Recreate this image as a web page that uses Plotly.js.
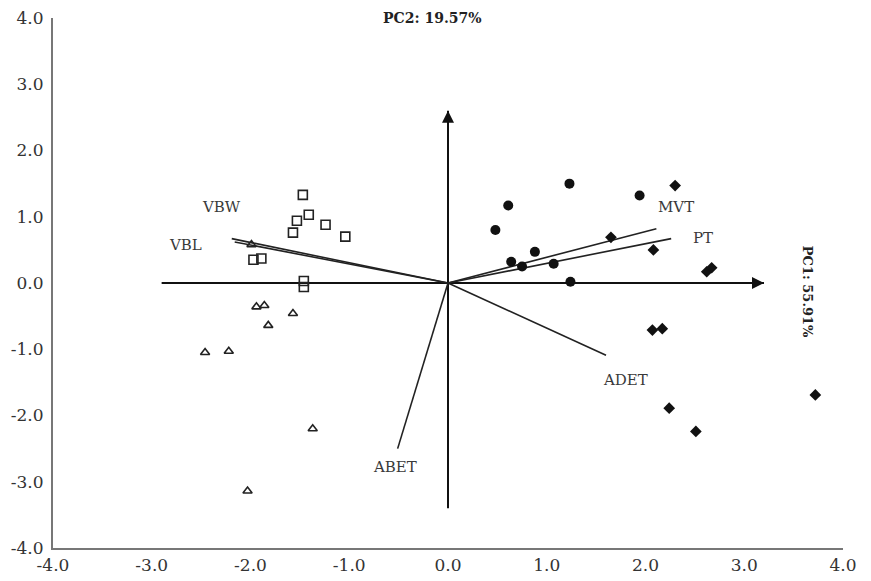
<!DOCTYPE html>
<html>
<head>
<meta charset="utf-8">
<script src="https://cdn.plot.ly/plotly-3.0.1.min.js"></script>
<style>html,body{margin:0;padding:0;background:#fff;}#chart{width:871px;height:581px;}</style>
</head>
<body>
<div id="chart"></div>
<script>
// Group scores (PC1, PC2)
const squareX = [-1.47, -1.41, -1.53, -1.57, -1.24, -1.04, -1.97, -1.89, -1.46, -1.46];
const squareY = [1.33, 1.03, 0.94, 0.76, 0.88, 0.70, 0.35, 0.37, 0.03, -0.06];
const triangleX = [-1.99, -1.94, -1.86, -1.57, -1.82, -2.46, -2.22, -1.37, -2.03];
const triangleY = [0.58, -0.36, -0.34, -0.46, -0.64, -1.05, -1.03, -2.20, -3.14];
const circleX = [1.23, 0.61, 0.48, 1.94, 0.88, 0.64, 0.75, 1.07, 1.24];
const circleY = [1.50, 1.17, 0.80, 1.32, 0.47, 0.32, 0.25, 0.29, 0.02];
const diamondX = [2.30, 1.65, 2.08, 2.62, 2.67, 2.07, 2.17, 2.24, 2.51, 3.72];
const diamondY = [1.47, 0.69, 0.50, 0.17, 0.23, -0.71, -0.69, -1.89, -2.24, -1.69];

// Variable loadings (vector end points) and labels
const loadingNames = ["VBW", "VBL", "MVT", "PT", "ADET", "ABET"];
const loadingX = [-2.19, -2.16, 2.11, 2.26, 1.60, -0.51];
const loadingY = [0.67, 0.62, 0.82, 0.67, -1.09, -2.50];
const labelX = [-2.29, -2.66, 2.31, 2.58, 1.80, -0.54];
const labelY = [1.14, 0.58, 1.15, 0.68, -1.47, -2.77];

// Component axes (extent)
const pc1Extent = [-2.9, 3.2];
const pc2Extent = [-3.4, 2.6];
const pc1Label = "PC1: 55.91%";
const pc2Label = "PC2: 19.57%";
const tickVals = [-4, -3, -2, -1, 0, 1, 2, 3, 4];
const tickText = ["-4.0", "-3.0", "-2.0", "-1.0", "0.0", "1.0", "2.0", "3.0", "4.0"];

const serif = "DejaVu Serif, serif";

const traces = [];
// inner axes
traces.push({x: pc1Extent, y: [0, 0], mode: "lines", line: {color: "#111", width: 2}, hoverinfo: "skip", showlegend: false});
traces.push({x: [0, 0], y: pc2Extent, mode: "lines", line: {color: "#111", width: 2}, hoverinfo: "skip", showlegend: false});
// loading vectors
for (let i = 0; i < loadingNames.length; i++) {
  traces.push({x: [0, loadingX[i]], y: [0, loadingY[i]], mode: "lines",
    line: {color: "#222", width: 1.6}, hoverinfo: "skip", showlegend: false, name: loadingNames[i]});
}
traces.push({x: squareX, y: squareY, mode: "markers", showlegend: false,
  marker: {symbol: "square-open", size: 9, color: "#222", line: {width: 1.6, color: "#222"}}});
traces.push({x: triangleX, y: triangleY, mode: "markers", showlegend: false,
  marker: {symbol: "triangle-up-open", size: 8, color: "#222", line: {width: 1.6, color: "#222"}}});
traces.push({x: circleX, y: circleY, mode: "markers", showlegend: false,
  marker: {symbol: "circle", size: 10, color: "#111"}});
traces.push({x: diamondX, y: diamondY, mode: "markers", showlegend: false,
  marker: {symbol: "diamond", size: 9, color: "#111"}});

const annotations = [];
for (let i = 0; i < loadingNames.length; i++) {
  annotations.push({x: labelX[i], y: labelY[i], xref: "x", yref: "y", text: loadingNames[i],
    showarrow: false, font: {family: serif, size: 15, color: "#3a3a3a"}});
}
// arrowheads on component axes
annotations.push({x: pc1Extent[1], y: 0, ax: pc1Extent[1] - 0.3, ay: 0, xref: "x", yref: "y", axref: "x", ayref: "y",
  text: "", showarrow: true, arrowhead: 2, arrowsize: 1.2, arrowwidth: 2, arrowcolor: "#111"});
annotations.push({x: 0, y: pc2Extent[1], ax: 0, ay: pc2Extent[1] - 0.4, xref: "x", yref: "y", axref: "x", ayref: "y",
  text: "", showarrow: true, arrowhead: 2, arrowsize: 1.2, arrowwidth: 2, arrowcolor: "#111"});
annotations.push({x: -0.16, y: 4.0, xref: "x", yref: "y", text: "<b>" + pc2Label + "</b>", showarrow: false,
  font: {family: serif, size: 14, color: "#222"}});
annotations.push({x: 3.64, y: -0.14, xref: "x", yref: "y", text: "<b>" + pc1Label + "</b>", showarrow: false,
  textangle: 90, font: {family: serif, size: 13, color: "#222"}});

const axisCommon = {
  range: [-4, 4], tickvals: tickVals, ticktext: tickText, showgrid: false, zeroline: false,
  showline: true, linecolor: "#777", linewidth: 2, ticks: "", fixedrange: true,
  tickfont: {family: serif, size: 17, color: "#333"}
};

const layout = {
  width: 871, height: 581,
  margin: {l: 53, r: 28, t: 18, b: 33},
  paper_bgcolor: "#fff", plot_bgcolor: "#fff",
  xaxis: Object.assign({}, axisCommon, {ticklabelstandoff: 1}),
  yaxis: Object.assign({}, axisCommon, {ticklabelstandoff: 4}),
  annotations: annotations,
  showlegend: false
};

Plotly.newPlot("chart", traces, layout, {displayModeBar: false, staticPlot: true});
</script>
</body>
</html>
